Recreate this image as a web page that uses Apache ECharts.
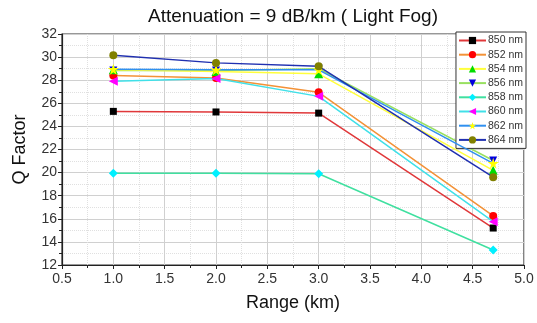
<!DOCTYPE html>
<html><head><meta charset="utf-8">
<script src="https://cdn.jsdelivr.net/npm/echarts@6/dist/echarts.min.js"></script>
<style>html,body{margin:0;padding:0;background:#fff}#c{width:537px;height:323px}</style>
</head><body><div id="c"></div>
<script>
const ranges = [1.0, 2.0, 3.0, 4.7];
const names = ['850 nm','852 nm','854 nm','856 nm','858 nm','860 nm','862 nm','864 nm'];
const q850 = [25.3, 25.25, 25.15, 15.2];
const q852 = [28.4, 28.2, 26.95, 16.25];
const q854 = [28.9, 28.75, 28.55, 20.2];
const q856 = [28.85, 28.85, 29.0, 21.05];
const q858 = [19.95, 19.95, 19.9, 13.3];
const q860 = [27.9, 28.15, 26.6, 15.75];
const q862 = [28.95, 28.9, 28.9, 20.8];
const q864 = [30.15, 29.5, 29.2, 19.6];
const values = [q850,q852,q854,q856,q858,q860,q862,q864];

const star = 'path://M50,0 L61,35 L98,35 L68,57 L79,91 L50,70 L21,91 L32,57 L2,35 L39,35 Z';
const styles = [
  {line:'#e0383a', mk:'#000000', sym:'rect', size:7, rot:0, z:3},
  {line:'#f39237', mk:'#ff0000', sym:'circle', size:8, rot:0, z:4},
  {line:'#ffff3c', mk:'#00dd00', sym:'triangle', size:9, rot:0, z:6},
  {line:'#98e060', mk:'#0000dd', sym:'triangle', size:8, rot:180, z:2},
  {line:'#40e0a0', mk:'#00f0ff', sym:'diamond', size:9, rot:0, z:5},
  {line:'#40e0e8', mk:'#ff00ff', sym:'triangle', size:9, rot:90, z:7},
  {line:'#3090f0', mk:'#ffff00', sym:star, size:11, rot:0, z:8},
  {line:'#2030b0', mk:'#808000', sym:'circle', size:8, rot:0, z:9}
];

const series = names.map((n,i)=>({
  name:n, type:'line',
  data: ranges.map((x,j)=>[x, values[i][j]]),
  symbol: styles[i].sym, symbolSize: styles[i].size, symbolRotate: styles[i].rot,
  showAllSymbol:true,
  lineStyle:{color:styles[i].line, width:1.5},
  itemStyle:{color:styles[i].mk, borderWidth:0},
  color: styles[i].line,
  z: styles[i].z
}));

const F = 'Liberation Sans, Arial';
const chart = echarts.init(document.getElementById('c'), null, {renderer:'canvas'});
chart.setOption({
  animation:false,
  backgroundColor:'#fff',
  title:{text:'Attenuation = 9 dB/km ( Light Fog)', left:288, top:2, textAlign:'center',
    textStyle:{fontFamily:F, fontSize:19, fontWeight:'normal', color:'#111'}},
  grid:{left:62, right:13, top:34, bottom:58, show:true, borderColor:'#333', borderWidth:1.2, backgroundColor:'transparent'},
  legend:{
    orient:'vertical', right:11, top:32, padding:[3,3,3,2], itemGap:3.2,
    itemWidth:27, itemHeight:9,
    backgroundColor:'#fff', borderColor:'#333', borderWidth:1,
    textStyle:{fontFamily:F, fontSize:10.5, color:'#333', padding:[0,0,0,-3]},
    data: names
  },
  xAxis:{type:'value', min:0.5, max:5.0, interval:0.5,
    name:'Range (km)', nameLocation:'middle', nameGap:29,
    nameTextStyle:{fontFamily:F, fontSize:18, color:'#111'},
    axisLine:{lineStyle:{color:'#222', width:1.2}},
    axisTick:{show:true, inside:false, length:4, lineStyle:{color:'#222'}},
    minorTick:{show:true, splitNumber:2, length:3, lineStyle:{color:'#222'}},
    splitLine:{show:true, lineStyle:{color:'#d0d0d0', width:1}},
    minorSplitLine:{show:true, lineStyle:{color:'#e0e0e0', type:'dotted', width:1}},
    axisLabel:{fontFamily:F, fontSize:14, color:'#333', margin:7,
      formatter:v=>v.toFixed(1)}
  },
  yAxis:{type:'value', min:12, max:32, interval:2,
    name:'Q Factor', nameLocation:'middle', nameGap:33, nameRotate:90,
    nameTextStyle:{fontFamily:F, fontSize:18, color:'#111'},
    axisLine:{show:true, lineStyle:{color:'#222', width:1.2}},
    axisTick:{show:true, inside:false, length:4, lineStyle:{color:'#222'}},
    minorTick:{show:true, splitNumber:2, length:3, lineStyle:{color:'#222'}},
    splitLine:{show:true, lineStyle:{color:'#d0d0d0', width:1}},
    minorSplitLine:{show:true, lineStyle:{color:'#e0e0e0', type:'dotted', width:1}},
    axisLabel:{fontFamily:F, fontSize:14, color:'#333', margin:5}
  },
  series: series
});
</script></body></html>
